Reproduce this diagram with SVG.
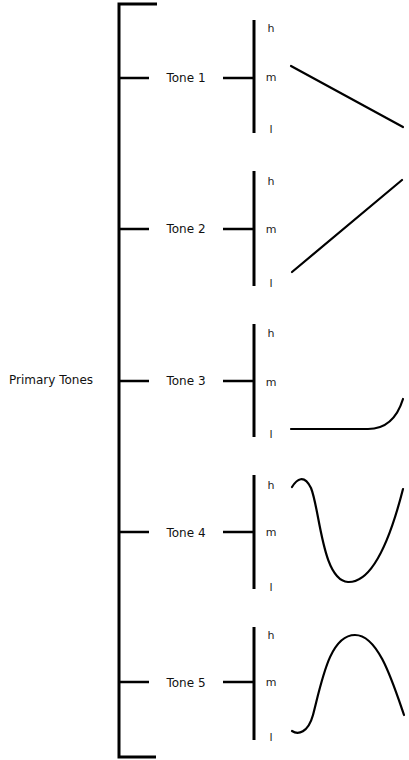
<svg xmlns="http://www.w3.org/2000/svg" width="409" height="760" viewBox="0 0 409 760">
<style>
.ln{stroke:#000;stroke-width:3;fill:none}
.br{stroke:#000;stroke-width:2.5;fill:none}
.cv{stroke:#000;stroke-width:2.2;fill:none;stroke-linecap:round}
.lbl{font-family:"DejaVu Sans","Liberation Sans",sans-serif;font-size:12px;fill:#111;text-anchor:middle;dominant-baseline:central}
.lv{font-family:"DejaVu Sans","Liberation Sans",sans-serif;font-size:11px;fill:#222;text-anchor:middle;dominant-baseline:central}
</style>
<rect width="409" height="760" fill="#fff"/>
<g id="root">
<text class="lbl" x="51" y="380">Primary Tones</text>
</g>
<g id="connectors">
<path class="ln" d="M157,4 H119 V757 H156"/>
<path class="br" d="M119,78 H149 M223,78 H254"/>
<path class="br" d="M119,229 H149 M223,229 H254"/>
<path class="br" d="M119,381 H149 M223,381 H254"/>
<path class="br" d="M119,532 H149 M223,532 H254"/>
<path class="br" d="M119,682 H149 M223,682 H254"/>
</g>
<g id="tone1">
<text class="lbl" x="186" y="78">Tone 1</text>
<line class="ln" x1="254" y1="20" x2="254" y2="133"/>
<text class="lv" x="271" y="28">h</text>
<text class="lv" x="271" y="77">m</text>
<text class="lv" x="271" y="129">l</text>
<path class="cv" d="M291,66 L403,127"/>
</g>
<g id="tone2">
<text class="lbl" x="186" y="229">Tone 2</text>
<line class="ln" x1="254" y1="171" x2="254" y2="286"/>
<text class="lv" x="271" y="181">h</text>
<text class="lv" x="271" y="229">m</text>
<text class="lv" x="271" y="283">l</text>
<path class="cv" d="M292,272 L402,180"/>
</g>
<g id="tone3">
<text class="lbl" x="186" y="381">Tone 3</text>
<line class="ln" x1="254" y1="324" x2="254" y2="437"/>
<text class="lv" x="271" y="333">h</text>
<text class="lv" x="271" y="382">m</text>
<text class="lv" x="271" y="434">l</text>
<path class="cv" d="M291,429 L368,429 C388,429 398,415 403,399"/>
</g>
<g id="tone4">
<text class="lbl" x="186" y="533">Tone 4</text>
<line class="ln" x1="254" y1="475" x2="254" y2="589"/>
<text class="lv" x="271" y="485">h</text>
<text class="lv" x="271" y="532">m</text>
<text class="lv" x="271" y="587">l</text>
<path class="cv" d="M292,487 C297,479 304,474 311,488 C320,510 322,580 348,582 C372,583 390,540 403,489"/>
</g>
<g id="tone5">
<text class="lbl" x="186" y="683">Tone 5</text>
<line class="ln" x1="254" y1="627" x2="254" y2="740"/>
<text class="lv" x="271" y="635">h</text>
<text class="lv" x="271" y="682">m</text>
<text class="lv" x="271" y="737">l</text>
<path class="cv" d="M292,731 C298,735 308,733 313,715 C322,680 330,635 355,635 C378,635 392,680 404,715"/>
</g>
</svg>
